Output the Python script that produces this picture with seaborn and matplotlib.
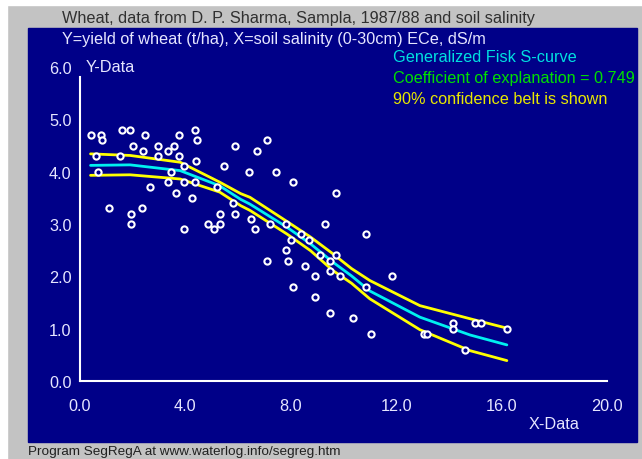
import pandas as pd
import matplotlib
matplotlib.use("Agg")
import matplotlib.pyplot as plt
import seaborn as sns
from matplotlib.patches import Rectangle

# observed data: soil salinity (x) and wheat yield (y)
salinity = [0.4, 0.8, 0.85, 1.6, 1.9, 2.45, 2.0, 2.95, 3.55, 3.75, 4.35, 4.45, 5.9,
            2.4, 3.35, 2.95, 3.75, 0.6, 1.5, 4.4, 3.95, 5.45, 0.7, 3.45, 6.4,
            2.65, 3.35, 3.95, 4.35, 3.65, 4.25, 5.2, 5.8, 1.1, 2.35, 1.95, 5.3,
            5.9, 1.95, 3.95, 4.85, 5.1, 5.3, 7.1, 6.7, 7.45, 8.1, 9.7, 6.5, 6.65,
            7.2, 7.8, 9.3, 8.4, 8.7, 8.0, 10.85, 7.8, 7.1, 7.9, 8.55, 9.7, 9.1,
            9.5, 9.5, 9.85, 8.9, 8.1, 10.85, 11.85, 8.9, 9.5, 10.35, 11.05,
            13.05, 13.15, 14.15, 14.15, 15.0, 15.2, 16.2, 14.6]
yield_ = [4.7, 4.7, 4.6, 4.8, 4.8, 4.7, 4.5, 4.5, 4.5, 4.7, 4.8, 4.6, 4.5,
          4.4, 4.4, 4.3, 4.3, 4.3, 4.3, 4.2, 4.1, 4.1, 4.0, 4.0, 4.0,
          3.7, 3.8, 3.8, 3.8, 3.6, 3.5, 3.7, 3.4, 3.3, 3.3, 3.2, 3.2,
          3.2, 3.0, 2.9, 3.0, 2.9, 3.0, 4.6, 4.4, 4.0, 3.8, 3.6, 3.1, 2.9,
          3.0, 3.0, 3.0, 2.8, 2.7, 2.7, 2.8, 2.5, 2.3, 2.3, 2.2, 2.4, 2.4,
          2.3, 2.1, 2.0, 2.0, 1.8, 1.8, 2.0, 1.6, 1.3, 1.2, 0.9,
          0.9, 0.9, 1.1, 1.0, 1.1, 1.1, 1.0, 0.6]

# fitted generalized Fisk S-curve and 90% confidence belt
curve_x = [0.4, 1.9, 3.8, 5.3, 6.1, 6.45, 7.85, 8.75, 9.6, 10.3, 11.0, 12.9, 14.8, 16.2]
curve_y = [4.12, 4.13, 4.02, 3.73, 3.47, 3.38, 2.94, 2.62, 2.27, 2.01, 1.72, 1.22, 0.88, 0.69]
upper_y = [4.34, 4.31, 4.18, 3.80, 3.58, 3.51, 3.05, 2.75, 2.43, 2.15, 1.92, 1.44, 1.19, 1.01]
lower_y = [3.93, 3.94, 3.86, 3.61, 3.35, 3.26, 2.81, 2.49, 2.11, 1.87, 1.57, 0.98, 0.58, 0.39]

x_ticks = [0, 4, 8, 12, 16, 20]
y_ticks = [0, 1, 2, 3, 4, 5, 6]

navy = "#000088"
light = "#e6e6ff"
fs = 11.7

sns.set_style("white")
plt.rcParams['font.family'] = ['Liberation Sans', 'DejaVu Sans']

points = pd.DataFrame({"x": salinity, "y": yield_})
fit = pd.DataFrame({"x": curve_x, "fit": curve_y, "upper": upper_y, "lower": lower_y})

fig = plt.figure(figsize=(6.42, 4.60), dpi=100)
fig.patch.set_facecolor("#c3c3c3")
# white edge strips and blue panel, kept behind the axes
fig.patches.append(Rectangle((0, 1 - 6 / 460), 1, 6 / 460, transform=fig.transFigure,
                             color="white", zorder=-2))
fig.patches.append(Rectangle((0, 0), 7 / 642, 1, transform=fig.transFigure,
                             color="white", zorder=-2))
fig.patches.append(Rectangle((28 / 642, 1 - 443 / 460), (637 - 28) / 642, (443 - 29) / 460,
                             transform=fig.transFigure, color=navy, zorder=-1))

ax = fig.add_axes([80 / 642, 1 - 382 / 460, 527 / 642, 314 / 460])
ax.set_facecolor("none")
ax.patch.set_alpha(0)

sns.lineplot(data=fit, x="x", y="upper", color="#ffff00", lw=2, ax=ax)
sns.lineplot(data=fit, x="x", y="lower", color="#ffff00", lw=2, ax=ax)
sns.lineplot(data=fit, x="x", y="fit", color="#00f0f0", lw=2, ax=ax)
sns.scatterplot(data=points, x="x", y="y", marker="o", s=20, facecolor=navy,
                edgecolor="white", linewidth=1.5, ax=ax, zorder=5)

ax.set_xlim(0, 20)
ax.set_ylim(0, 6)
ax.set_xticks(x_ticks)
ax.set_xticklabels([f"{v:.1f}" for v in x_ticks])
ax.set_yticks(y_ticks)
ax.set_yticklabels([f"{v:.1f}" for v in y_ticks])
ax.set_xlabel("")
ax.set_ylabel("")
for s in ["top", "right"]:
    ax.spines[s].set_visible(False)
for s in ["left", "bottom"]:
    ax.spines[s].set_color("white")
    ax.spines[s].set_linewidth(1.5)
ax.spines["left"].set_bounds(0, 5.8)
ax.tick_params(axis="x", direction="in", length=5, width=1.5, color="white",
               labelcolor=light, labelsize=fs, pad=12)
ax.tick_params(axis="y", direction="out", length=4, width=1.5, color="white",
               labelcolor=light, labelsize=fs, pad=2)

ax.text(0.2, 6.0, "Y-Data", color=light, fontsize=fs, va="center", ha="left")
ax.text(18.0, -0.82, "X-Data", color=light, fontsize=fs, va="center", ha="center")

fig.text(62 / 642, 1 - 18 / 460, "Wheat, data from D. P. Sharma, Sampla, 1987/88 and soil salinity",
         color="#303030", fontsize=fs, va="center")
fig.text(62 / 642, 1 - 40 / 460, "Y=yield of wheat (t/ha), X=soil salinity (0-30cm) ECe, dS/m",
         color=light, fontsize=fs, va="center")
fig.text(393 / 642, 1 - 58 / 460, "Generalized Fisk S-curve", color="#00e0e0",
         fontsize=fs, va="center")
fig.text(393 / 642, 1 - 78 / 460, "Coefficient of explanation = 0.749", color="#00e000",
         fontsize=fs, va="center")
fig.text(393 / 642, 1 - 99 / 460, "90% confidence belt is shown", color="#e8e800",
         fontsize=fs, va="center")
fig.text(28 / 642, 1 - 452 / 460, "Program SegRegA at www.waterlog.info/segreg.htm",
         color="#202020", fontsize=9.7, va="center")

fig.savefig("out.png", dpi=100, facecolor=fig.get_facecolor())
